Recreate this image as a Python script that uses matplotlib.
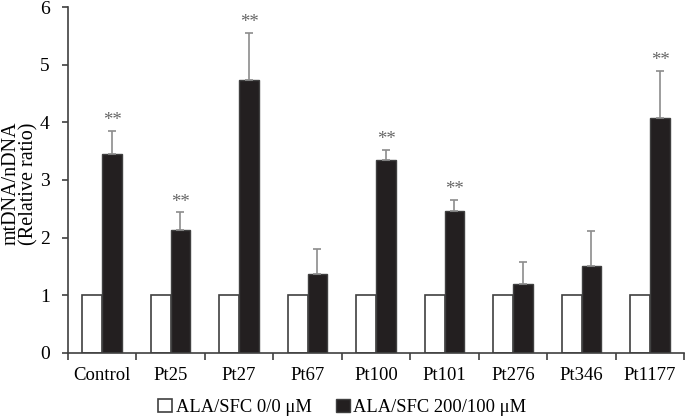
import matplotlib
matplotlib.use("Agg")
import matplotlib.pyplot as plt
import numpy as np

categories = ["Control", "Pt25", "Pt27", "Pt67", "Pt100", "Pt101", "Pt276", "Pt346", "Pt1177"]
untreated = [1, 1, 1, 1, 1, 1, 1, 1, 1]
treated = [3.45, 2.13, 4.73, 1.37, 3.34, 2.47, 1.19, 1.50, 4.08]
treated_err = [0.40, 0.31, 0.82, 0.44, 0.18, 0.18, 0.38, 0.62, 0.81]
significant = [True, True, True, False, True, True, False, False, True]
legend_labels = ["ALA/SFC 0/0 μM", "ALA/SFC 200/100 μM"]

plt.rcParams['font.family'] = ['Liberation Serif', 'DejaVu Serif']

fig = plt.figure(figsize=(6.85, 4.2), dpi=100)
ax = fig.add_axes([0.099, 0.16, 0.9, 0.823])

x = np.arange(len(categories))
w = 0.29
ax.bar(x - w/2, untreated, w, color="white", edgecolor="#404040", linewidth=1.2, label=legend_labels[0])
ax.bar(x + w/2, treated, w, color="#231f20", edgecolor="#404040", linewidth=1.0, label=legend_labels[1])
ax.errorbar(x + w/2, treated, yerr=[np.zeros(len(treated)), treated_err], fmt="none",
            ecolor="#8c8c8c", elinewidth=1.2, capsize=3, capthick=1.2)
for xi, t, e, s in zip(x, treated, treated_err, significant):
    if s:
        ax.text(xi + w/2, t + e + 0.03, "**", ha="center", va="bottom", fontsize=13.5, color="#666666")

ax.set_xlim(-0.5, len(categories) - 0.5)
ax.set_ylim(0, 6)
ax.set_yticks(range(0, 7))
ax.set_xticks(x)
ax.set_xticklabels(categories, fontsize=13.5)
ax.set_xticks(np.arange(-0.5, len(categories)), minor=True)
ax.tick_params(axis="x", which="major", length=0, pad=10)
ax.tick_params(axis="x", which="minor", length=5, width=1.2, color="#404040", direction="out")
ax.tick_params(axis="y", length=4, width=1.2, color="#404040", labelsize=14, pad=9)
for sp in ["top", "right"]:
    ax.spines[sp].set_visible(False)
for sp in ["left", "bottom"]:
    ax.spines[sp].set_color("#404040")
    ax.spines[sp].set_linewidth(1.2)
ax.set_ylabel("mtDNA/nDNA\n(Relative ratio)", fontsize=14.5, linespacing=0.9)
ax.yaxis.label.set_verticalalignment("center")
ax.yaxis.set_label_coords(-0.078, 0.49)

leg = fig.legend(loc="lower center", bbox_to_anchor=(0.5, -0.03), ncol=2, frameon=False,
                 fontsize=13.3, handlelength=0.75, handleheight=0.75, handletextpad=0.2, columnspacing=1.3)
fig.savefig("out.png", dpi=100)
